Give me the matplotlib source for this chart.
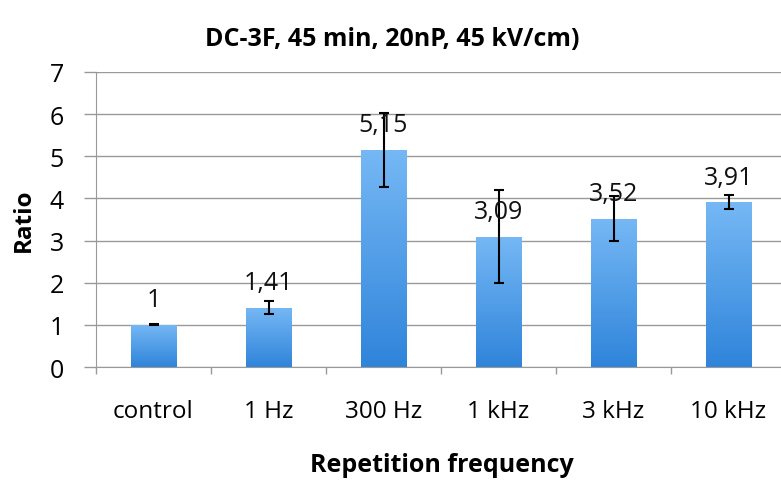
import numpy as np
import matplotlib
matplotlib.use("Agg")
import matplotlib.pyplot as plt
from matplotlib.colors import LinearSegmentedColormap

categories = ["control", "1 Hz", "300 Hz", "1 kHz", "3 kHz", "10 kHz"]
values = [1.0, 1.41, 5.15, 3.09, 3.52, 3.91]
errors = [0.01, 0.15, 0.87, 1.10, 0.54, 0.16]
labels = ["1", "1,41", "5,15", "3,09", "3,52", "3,91"]
yticks = [0, 1, 2, 3, 4, 5, 6, 7]

plt.rcParams['font.family'] = ['Open Sans', 'DejaVu Sans']

fig = plt.figure(figsize=(7.81, 4.81), dpi=100)
ax = fig.add_axes([96/781, 1-368/481, 690/781, 295/481])

x = np.arange(len(categories))
bars = ax.bar(x, values, width=0.4, color='#4a9ae6', zorder=2)

cmap = LinearSegmentedColormap.from_list('g', ['#2f84da', '#76b8f5'])
grad = np.linspace(0, 1, 256).reshape(-1, 1)
for b in bars:
    x0, y0 = b.get_x(), b.get_y()
    w, h = b.get_width(), b.get_height()
    im = ax.imshow(grad, cmap=cmap, aspect='auto', origin='lower',
                   extent=[x0, x0 + w, y0, y0 + h], zorder=2.1)
    im.set_clip_path(b)
    b.set_facecolor('none')

ax.errorbar(x, values, yerr=errors, fmt='none', ecolor='black', elinewidth=1.5,
            capsize=3.5, capthick=1.5, zorder=4)

for xi, v, lab in zip(x, values, labels):
    ax.annotate(lab, (xi, v), xytext=(0, 18), textcoords='offset points',
                ha='center', va='center', fontsize=18, color='#111111', zorder=5)

ax.set_xlim(-0.5, len(categories) - 0.5)
ax.set_ylim(0, 7)
ax.set_yticks(yticks)
ax.set_yticklabels([str(t) for t in yticks], fontsize=18)
ax.set_xticks(x)
ax.set_xticklabels(categories, fontsize=17.5)
ax.set_xticks(np.arange(-0.5, len(categories), 1.0), minor=True)
ax.tick_params(axis='x', which='major', length=0, pad=23)
ax.tick_params(axis='x', which='minor', length=5, color='#999999', width=1)
ax.tick_params(axis='y', length=9, color='#999999', width=1, pad=14, direction='out')

ax.grid(axis='y', color='#9a9a9a', linewidth=1, zorder=0)
ax.set_axisbelow(True)
for s in ['top', 'right']:
    ax.spines[s].set_visible(False)
ax.spines['left'].set_color('#999999')
ax.spines['bottom'].set_color('#999999')

ax.set_ylabel('Ratio', fontsize=17.5, fontweight='bold', labelpad=10)
fig.text(442/781, 1-466/481, 'Repetition frequency', fontsize=18, fontweight='bold',
         ha='center', va='center')
fig.text(392/781, 1-40/481, 'DC-3F, 45 min, 20nP, 45 kV/cm)', fontsize=18,
         fontweight='bold', ha='center', va='center')

fig.savefig('out.png', dpi=100)
